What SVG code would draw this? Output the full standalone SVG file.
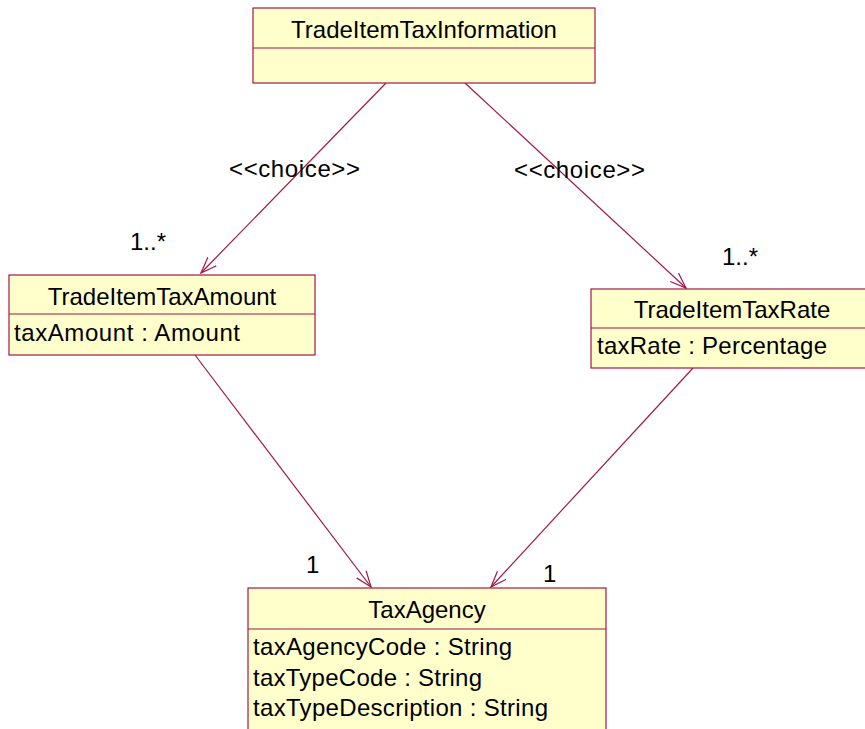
<svg xmlns="http://www.w3.org/2000/svg" width="865" height="729" viewBox="0 0 865 729">
<style>
.box{fill:#ffffcc;stroke:#a3174a;stroke-width:1.2}
.div{stroke:#a3174a;stroke-width:1.2}
.t{font-family:"Liberation Sans",Arial,sans-serif;font-size:24px;fill:#000}
.c{text-anchor:middle}
.ln{stroke:#a3174a;stroke-width:1.2;fill:none}
</style>
<defs>
<marker id="arr" markerWidth="20" markerHeight="20" refX="16" refY="8" orient="auto" markerUnits="userSpaceOnUse">
<path d="M0,2 L16,8 L0,14" fill="none" stroke="#a3174a" stroke-width="1.2"/>
</marker>
</defs>
<rect width="865" height="729" fill="#fff"/>
<g id="connectors">
<line class="ln" x1="386" y1="83" x2="201" y2="273" marker-end="url(#arr)"/>
<line class="ln" x1="465" y1="83" x2="686" y2="288" marker-end="url(#arr)"/>
<line class="ln" x1="195" y1="355" x2="371" y2="587" marker-end="url(#arr)"/>
<line class="ln" x1="693" y1="368" x2="491" y2="587" marker-end="url(#arr)"/>
<text class="t" x="229" y="177" textLength="131">&lt;&lt;choice&gt;&gt;</text>
<text class="t" x="514" y="178" textLength="131">&lt;&lt;choice&gt;&gt;</text>
<text class="t" x="130" y="250">1..*</text>
<text class="t" x="722" y="265">1..*</text>
<text class="t" x="306" y="573">1</text>
<text class="t" x="543" y="582">1</text>
</g>
<g id="TradeItemTaxInformation">
<rect class="box" x="253" y="8" width="342" height="75"/>
<line class="div" x1="253" y1="48" x2="595" y2="48"/>
<text class="t c" x="424" y="38">TradeItemTaxInformation</text>
</g>
<g id="TradeItemTaxAmount">
<rect class="box" x="9" y="275" width="306" height="80"/>
<line class="div" x1="9" y1="314" x2="315" y2="314"/>
<text class="t c" x="162" y="305">TradeItemTaxAmount</text>
<text class="t" x="14" y="341" textLength="226">taxAmount : Amount</text>
</g>
<g id="TradeItemTaxRate">
<rect class="box" x="591" y="289" width="280" height="79"/>
<line class="div" x1="591" y1="328" x2="871" y2="328"/>
<text class="t c" x="732" y="318">TradeItemTaxRate</text>
<text class="t" x="597" y="354" textLength="230">taxRate : Percentage</text>
</g>
<g id="TaxAgency">
<rect class="box" x="248" y="588" width="358" height="150"/>
<line class="div" x1="248" y1="629" x2="606" y2="629"/>
<text class="t c" x="427" y="618">TaxAgency</text>
<text class="t" x="253" y="655" textLength="259">taxAgencyCode : String</text>
<text class="t" x="253" y="686" textLength="229">taxTypeCode : String</text>
<text class="t" x="253" y="716" textLength="295">taxTypeDescription : String</text>
</g>
</svg>
